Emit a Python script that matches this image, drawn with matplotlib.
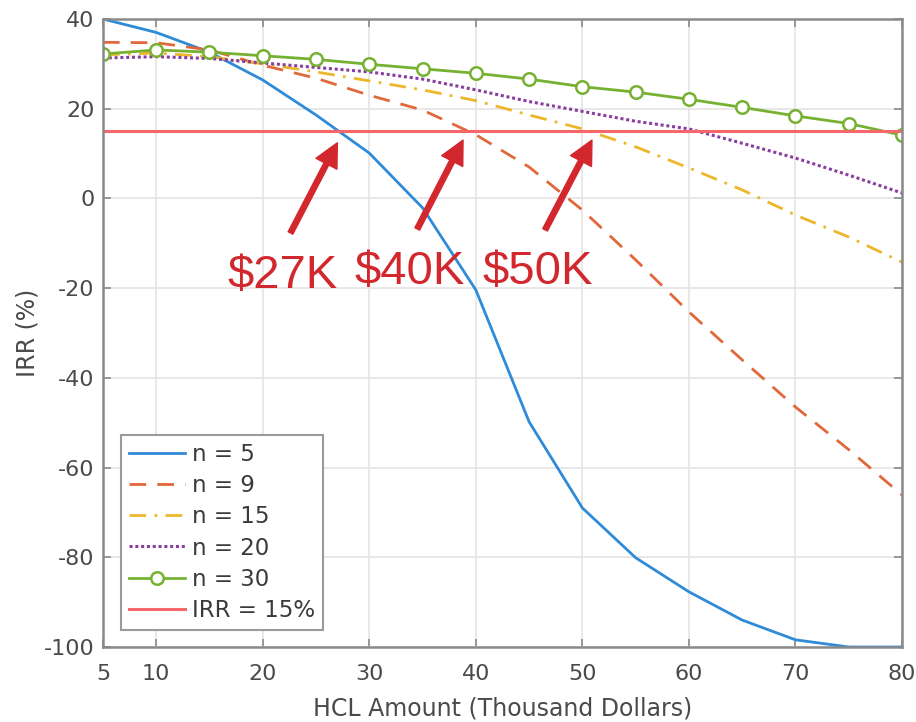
import matplotlib
matplotlib.use("Agg")
import matplotlib.pyplot as plt

plt.rcParams['font.family'] = ['DejaVu Sans']
plt.rcParams['axes.unicode_minus'] = False

hcl = [5, 10, 15, 20, 25, 30, 35, 40, 45, 50, 55, 60, 65, 70, 75, 80]
irr_n5 = [40, 37, 32.6, 26.4, 18.6, 10.1, -2.1, -20.4, -49.8, -69, -80.1, -87.7, -94, -98.4, -100, -100]
irr_n9 = [34.8, 34.7, 33.1, 29.7, 26.8, 23, 19.7, 14.2, 7.0, -2.6, -13.7, -25.3, -36, -46.5, -56, -66.1]
irr_n15 = [32, 32.4, 31.6, 30, 28.2, 26.2, 24.2, 21.8, 18.6, 15.5, 11.5, 6.8, 1.9, -3.7, -8.6, -14.2]
irr_n20 = [31.3, 31.6, 31.2, 30.2, 29.2, 28.2, 26.6, 24.2, 21.6, 19.4, 17.2, 15.5, 12.3, 9.0, 5.2, 1.2]
irr_n30 = [32.2, 33.1, 32.6, 31.8, 31.0, 29.9, 28.9, 27.9, 26.6, 24.9, 23.7, 22.1, 20.3, 18.4, 16.7, 14.1]
irr_target = 15

labels = ["n = 5", "n = 9", "n = 15", "n = 20", "n = 30", "IRR = 15%"]
annot_text = ["$27K", "$40K", "$50K"]
annot_tip_x = [27.0, 38.8, 50.9]
annot_tip_y = [12.4, 13.0, 13.0]
annot_tail_x = [22.6, 34.5, 46.5]
annot_tail_y = [-7.7, -6.8, -7.0]
annot_label_x = [21.9, 33.8, 45.8]
annot_label_y = [-17.3, -16.5, -16.5]

fig = plt.figure(figsize=(9.16, 7.22), dpi=100)
ax = fig.add_axes([0.1124, 0.1039, 0.8723, 0.8698])

ax.plot(hcl, irr_n5, color='#2f8ad8', lw=2.0, label=labels[0])
ax.plot(hcl, irr_n9, color='#e0683a', lw=2.0, dashes=(6, 4), label=labels[1])
ax.plot(hcl, irr_n15, color='#eeb62a', lw=2.0, dashes=(6, 3, 1, 3), label=labels[2])
ax.plot(hcl, irr_n20, color='#8a3fa0', lw=2.2, dashes=(1, 0.9), label=labels[3])
ax.plot(hcl, irr_n30, color='#77b132', lw=2.0, marker='o', markersize=9,
        markerfacecolor='white', markeredgewidth=1.8, label=labels[4])
ax.axhline(irr_target, color='#f4686c', lw=2.2, label=labels[5])

for t, tx, ty, sx, sy, lx, ly in zip(annot_text, annot_tip_x, annot_tip_y,
                                     annot_tail_x, annot_tail_y,
                                     annot_label_x, annot_label_y):
    ax.annotate('', xy=(tx, ty), xytext=(sx, sy),
                arrowprops=dict(facecolor='#d3272e', edgecolor='#d3272e',
                                width=3.8, headwidth=17, headlength=17, shrink=0))
    ax.text(lx, ly, t, color='#d3272e', fontsize=34, family='Liberation Sans',
            ha='center', va='center')

ax.set_xlim(5, 80)
ax.set_ylim(-100, 40)
ax.set_xticks([5, 10, 20, 30, 40, 50, 60, 70, 80])
ax.set_yticks(list(range(-100, 41, 20)))
ax.grid(True, color='#e4e4e4', lw=1.2)
ax.set_axisbelow(True)
for s in ax.spines.values():
    s.set_color('#8a8a8a')
    s.set_linewidth(1.8)
ax.tick_params(direction='in', length=6, width=1.2, color='#8a8a8a',
               labelsize=16, labelcolor='#4a4a4a', top=True, right=True)
ax.tick_params(axis='x', pad=12)
ax.tick_params(axis='y', pad=6)
ax.set_xlabel('HCL Amount (Thousand Dollars)', fontsize=17, color='#4a4a4a', labelpad=9)
ax.set_ylabel('IRR (%)', fontsize=17, color='#4a4a4a', labelpad=3)

leg = ax.legend(loc='lower left', bbox_to_anchor=(0.0225, 0.027), borderaxespad=0,
                fontsize=16.5, handlelength=2.45, handletextpad=0.3, labelspacing=0.36,
                fancybox=False, framealpha=1, edgecolor='#9a9a9a', borderpad=0.35)
leg.get_frame().set_linewidth(1.5)
for txt in leg.get_texts():
    txt.set_color('#3a3a3a')

fig.savefig('out.png', dpi=100)
